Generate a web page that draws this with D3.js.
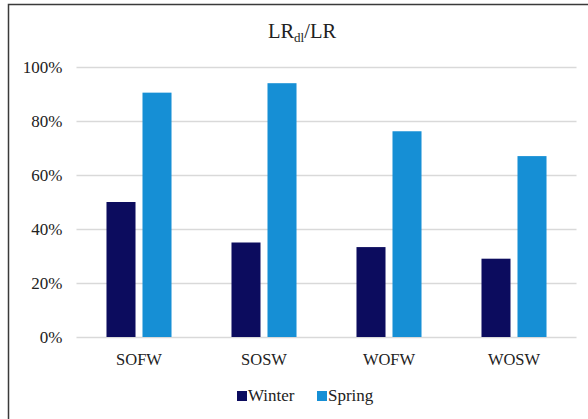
<!DOCTYPE html>
<html>
<head>
<meta charset="utf-8">
<script src="https://cdn.jsdelivr.net/npm/d3@7"></script>
<style>
  body { margin: 0; background: #fff; }
  svg, svg text { font-family: "Liberation Serif", "Times New Roman", "DejaVu Serif", serif; }
  svg { display: block; }
</style>
</head>
<body>
<svg id="chart" width="588" height="419"></svg>
<script>
// data
const categories = ["SOFW", "SOSW", "WOFW", "WOSW"];
const seriesNames = ["Winter", "Spring"];
const winterValues = [0.50, 0.35, 0.333, 0.29];
const springValues = [0.905, 0.94, 0.762, 0.67];
const yTicks = [0, 0.2, 0.4, 0.6, 0.8, 1.0];
const colors = ["#0c0c5e", "#168fd5"];

const rows = categories.map((c, i) => ({ cat: c, Winter: winterValues[i], Spring: springValues[i] }));

const svg = d3.select("#chart");

// chart frame (only top and left edges show in the picture)
svg.append("rect")
  .attr("x", 8.5).attr("y", 4.5)
  .attr("width", 600).attr("height", 440)
  .attr("fill", "none")
  .attr("stroke", "#3a3a3a")
  .attr("stroke-width", 1.5);

const plotL = 76.5, plotR = 576.5, plotT = 67, plotB = 337;

const x0 = d3.scaleBand().domain(categories).range([plotL, plotR]).padding(0);
const x1 = d3.scaleBand().domain(seriesNames).range([0, x0.bandwidth()])
  .paddingInner(0.194).paddingOuter(0.833);
const y = d3.scaleLinear().domain([0, 1]).range([plotB, plotT]);
const color = d3.scaleOrdinal().domain(seriesNames).range(colors);

// gridlines + y labels
const yAxis = svg.append("g")
  .attr("transform", "translate(" + plotL + ",0)")
  .call(d3.axisLeft(y).tickValues(yTicks).tickSize(-(plotR - plotL)).tickFormat(d3.format(".0%")))
  .attr("font-family", null).attr("font-size", null);
yAxis.select(".domain").remove();
yAxis.selectAll(".tick line").attr("stroke", "#d9d9d9").attr("stroke-width", 1.3);
yAxis.selectAll(".tick text")
  .attr("x", -14)
  .attr("fill", "#222")
  .style("font-size", "17px");

// bars
svg.append("g").selectAll("g")
  .data(rows).enter()
  .append("g")
  .attr("transform", d => "translate(" + x0(d.cat) + ",0)")
  .selectAll("rect")
  .data(d => seriesNames.map(s => ({ key: s, value: d[s] })))
  .enter().append("rect")
  .attr("x", d => x1(d.key))
  .attr("y", d => y(d.value))
  .attr("width", x1.bandwidth())
  .attr("height", d => y(0) - y(d.value))
  .attr("fill", d => color(d.key));

// category labels
const xAxis = svg.append("g")
  .attr("transform", "translate(0," + plotB + ")")
  .call(d3.axisBottom(x0).tickSize(0))
  .attr("font-family", null).attr("font-size", null);
xAxis.select(".domain").remove();
xAxis.selectAll(".tick text")
  .attr("y", 28)
  .attr("dy", null)
  .attr("fill", "#222")
  .style("font-size", "16.5px");

// title
const title = svg.append("text")
  .attr("x", 302).attr("y", 38)
  .attr("text-anchor", "middle")
  .attr("fill", "#222")
  .style("font-size", "20.5px");
title.append("tspan").text("LR");
title.append("tspan").attr("dy", 4).style("font-size", "13px").text("dl");
title.append("tspan").attr("dy", -4).text("/LR");

// legend
const legendX = [237, 317];
const legend = svg.append("g").selectAll("g")
  .data(seriesNames).enter()
  .append("g")
  .attr("transform", (d, i) => "translate(" + legendX[i] + ",391)");
legend.append("rect")
  .attr("width", 10).attr("height", 10)
  .attr("fill", d => color(d));
legend.append("text")
  .attr("x", 11).attr("y", 10)
  .attr("fill", "#222")
  .style("font-size", "17px")
  .text(d => d);
</script>
</body>
</html>
